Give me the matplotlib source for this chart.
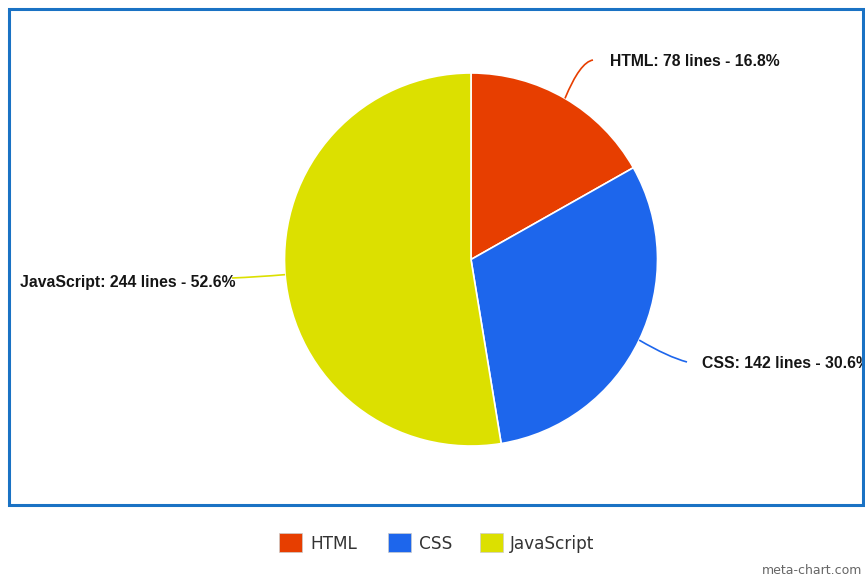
import numpy as np
import matplotlib
matplotlib.use("Agg")
import matplotlib.pyplot as plt
from matplotlib.patches import Rectangle, PathPatch
from matplotlib.path import Path

categories = ["HTML", "CSS", "JavaScript"]
lines_count = [78, 142, 244]
colors = ["#e73e00", "#1d66ec", "#dce000"]

W, H = 865, 580
fig = plt.figure(figsize=(W / 100, H / 100), dpi=100)
ax = fig.add_axes([0, 0, 1, 1])

def Y(py):
    return H - py

cx, cy, r = 471, Y(259.5), 186.5
wedges, _ = ax.pie(lines_count, colors=colors, startangle=90, counterclock=False,
                   center=(cx, cy), radius=r, frame=True,
                   wedgeprops=dict(edgecolor="white", linewidth=1.2))
ax.set_xlim(0, W)
ax.set_ylim(0, H)
ax.set_aspect("equal")
ax.axis("off")

total = sum(lines_count)
# label layout: (control point, end point, text anchor x, text y, ha)
layout = [
    ((580, 62), (593, 60), 610, 62, "left"),
    ((668, 357), (687, 362), 702, 363, "left"),
    ((258, 277), (232, 278), 236, 282, "right"),
]
for w, n, name, col, (ctrl, end, tx, ty, ha) in zip(wedges, lines_count, categories, colors, layout):
    ang = np.deg2rad((w.theta1 + w.theta2) / 2)
    p0 = (cx + r * np.cos(ang), cy + r * np.sin(ang))
    path = Path([p0, (ctrl[0], Y(ctrl[1])), (end[0], Y(end[1]))],
                [Path.MOVETO, Path.CURVE3, Path.CURVE3])
    ax.add_patch(PathPatch(path, facecolor="none", edgecolor=col, lw=1.2))
    pct = 100 * n / total
    ax.text(tx, Y(ty), f"{name}: {n} lines - {pct:.1f}%", ha=ha, va="center",
            fontsize=11.3, fontweight="bold", family="Liberation Sans", color="#151515",
            zorder=5)

# frame border (drawn above labels, as in the reference)
ax.add_patch(Rectangle((8.5, Y(504.5)), 854, 496, fill=False, edgecolor="#1a72c4",
                       lw=2.2, zorder=10))

# legend
leg_sq_x = [279, 388, 480]
leg_tx_x = [310, 419, 510]
for name, col, sx, tx in zip(categories, colors, leg_sq_x, leg_tx_x):
    ax.add_patch(Rectangle((sx, Y(552)), 23, 19, facecolor=col, edgecolor="#cccccc", lw=0.5))
    ax.text(tx, Y(544), name, ha="left", va="center", fontsize=12.2,
            family="DejaVu Sans", color="#333333")

ax.text(862, Y(571), "meta-chart.com", ha="right", va="center", fontsize=9,
        family="DejaVu Sans", color="#666666")

fig.savefig("out.png", dpi=100, facecolor="white")
